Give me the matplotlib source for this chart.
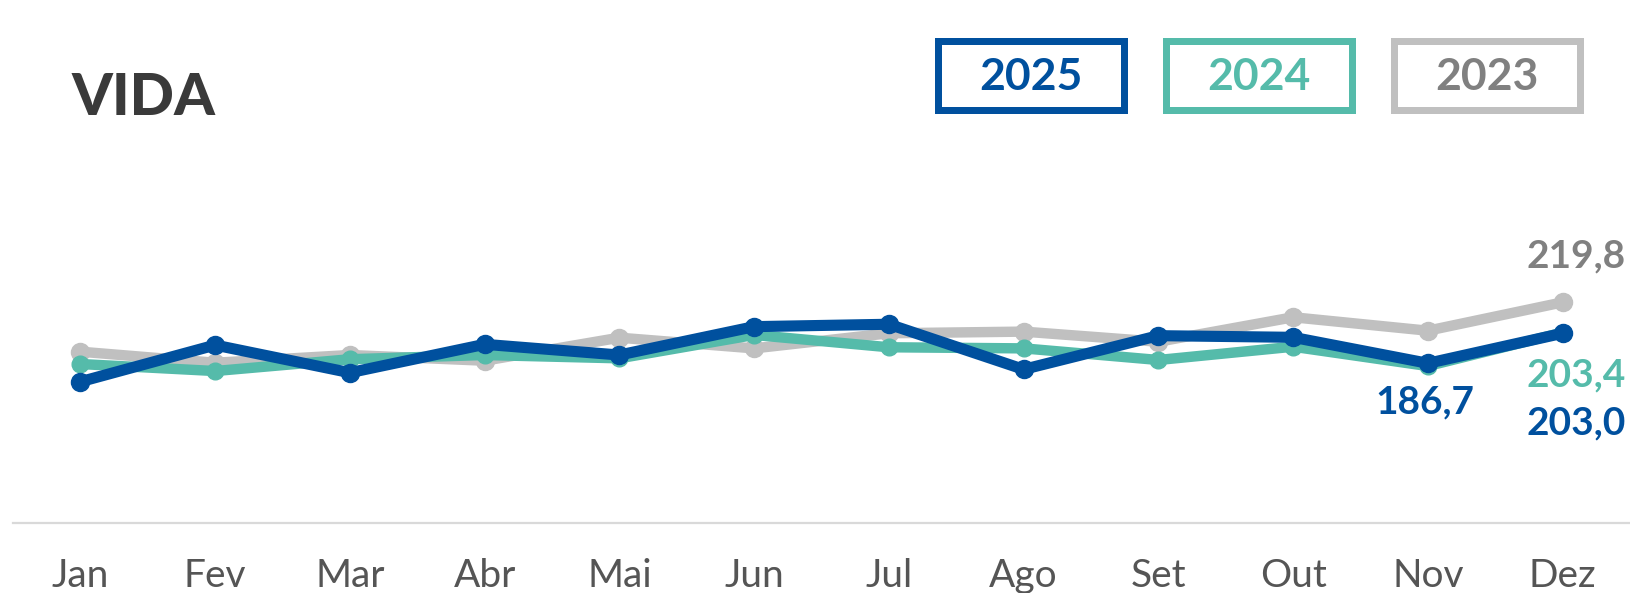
import matplotlib
matplotlib.use("Agg")
import matplotlib.pyplot as plt
from matplotlib.patches import Rectangle

# ---- data ----
months = ["Jan", "Fev", "Mar", "Abr", "Mai", "Jun", "Jul", "Ago", "Set", "Out", "Nov", "Dez"]
v2025 = [176.7, 196.6, 181.6, 197.0, 191.2, 206.6, 207.9, 183.4, 201.7, 200.8, 186.7, 203.0]
v2024 = [186.3, 182.5, 188.9, 191.2, 189.4, 202.1, 195.4, 194.8, 188.5, 195.7, 185.2, 203.4]
v2023 = [193.0, 187.0, 191.2, 188.1, 200.6, 194.8, 203.0, 203.9, 198.4, 211.7, 204.4, 219.8]
years = ["2025", "2024", "2023"]
title = "VIDA"

BLUE = "#00509E"
TEAL = "#55BBAA"
GRAY = "#C0C0C0"
GRAY_TXT = "#808080"
DARK = "#3A3A3A"
MONTH_TXT = "#555555"

W, H = 1630, 593
fig = plt.figure(figsize=(W / 100, H / 100), dpi=100)
FONT = ["Lato", "DejaVu Sans"]

def fx(px):
    return px / W

def fy(py):
    return 1 - py / H

ax_bottom_px, ax_top_px = 523, 130
ax = fig.add_axes([fx(13), fy(ax_bottom_px), 1 - fx(13), (ax_bottom_px - ax_top_px) / H])
px_per_unit = 1.842
ax.set_ylim(100, 100 + (ax_bottom_px - ax_top_px) / px_per_unit)
ax.set_xlim(-0.5, 11.5)

x = list(range(len(months)))
ax.plot(x, v2023, color=GRAY, lw=7.5, marker="o", ms=13, zorder=2, solid_joinstyle="round")
ax.plot(x, v2024, color=TEAL, lw=7.5, marker="o", ms=12, zorder=3, solid_joinstyle="round")
ax.plot(x, v2025, color=BLUE, lw=8.0, marker="o", ms=13, zorder=4, solid_joinstyle="round")

for s in ["top", "left", "right"]:
    ax.spines[s].set_visible(False)
ax.spines["bottom"].set_color("#D9D9D9")
ax.spines["bottom"].set_linewidth(1.6)
ax.set_yticks([])
ax.set_xticks(x, months)
ax.tick_params(axis="x", length=0, pad=25.5, labelsize=28, labelcolor=MONTH_TXT)
for lab in ax.get_xticklabels():
    lab.set_fontfamily(FONT)
ax.set_facecolor("none")

# ---- value labels ----
lab_kw = dict(textcoords="offset pixels", fontsize=28, fontweight="bold",
              family=FONT, annotation_clip=False, zorder=6)
ax.annotate(f"{v2023[-1]:.1f}".replace(".", ","), xy=(11, v2023[-1]), xytext=(63, 35),
            ha="right", va="baseline", color=GRAY_TXT, **lab_kw)
ax.annotate(f"{v2024[-1]:.1f}".replace(".", ","), xy=(11, v2024[-1]), xytext=(63, -54),
            ha="right", va="baseline", color=TEAL, **lab_kw)
ax.annotate(f"{v2025[-1]:.1f}".replace(".", ","), xy=(11, v2025[-1]), xytext=(63, -101),
            ha="right", va="baseline", color=BLUE, **lab_kw)
ax.annotate(f"{v2025[-2]:.1f}".replace(".", ","), xy=(10, v2025[-2]), xytext=(-3, -50),
            ha="center", va="baseline", color=BLUE, **lab_kw)

# ---- title ----
fig.text(fx(72), fy(115), title, fontsize=42, fontweight="black", color=DARK,
         family=FONT, ha="left", va="baseline")

# ---- legend boxes ----
box_specs = [(934, BLUE, BLUE), (1162, TEAL, TEAL), (1390, GRAY, GRAY_TXT)]
bw, bh, btop, bord = 193, 76, 37, 7
for (bx, ec, tc), yr in zip(box_specs, years):
    r = Rectangle((fx(bx + bord / 2), fy(btop + bh - bord / 2)),
                  (bw - bord) / W, (bh - bord) / H,
                  transform=fig.transFigure, fill=False, edgecolor=ec,
                  linewidth=bord * 0.72, joinstyle="miter")
    fig.patches.append(r)
    fig.text(fx(bx + bw / 2), fy(89.5), yr, fontsize=32, fontweight="bold",
             color=tc, family=FONT, ha="center", va="baseline")

fig.savefig("out.png", dpi=100)
